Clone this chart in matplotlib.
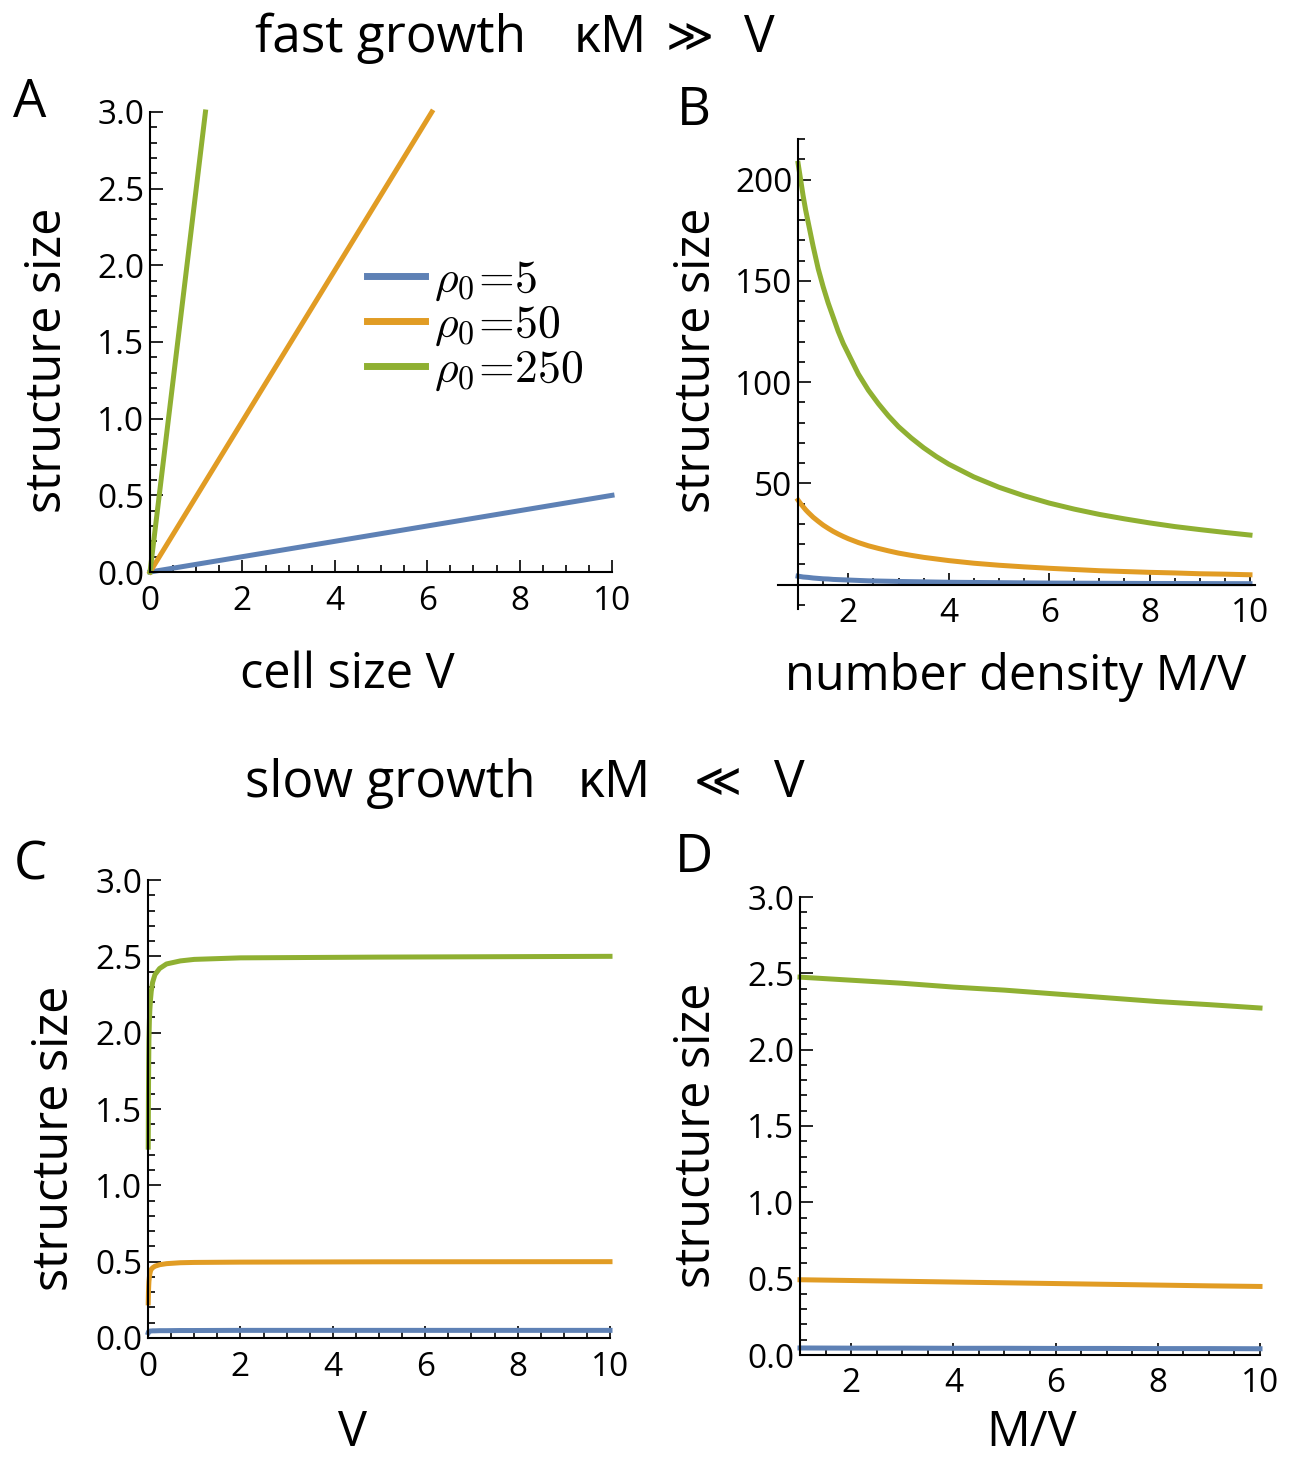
import matplotlib
matplotlib.use('Agg')
import matplotlib.pyplot as plt
from matplotlib.ticker import MultipleLocator, FixedLocator, FormatStrFormatter

W, H = 1296, 1458

blue = '#5E81B5'
orange = '#E19C24'
green = '#8FB032'
labels = [r'$\rho_0\!=\!5$', r'$\rho_0\!=\!50$', r'$\rho_0\!=\!250$']

a_x_blue = [0, 10]
a_y_blue = [0, 0.5]
a_x_orange = [0, 6.1]
a_y_orange = [0, 3.0]
a_x_green = [0, 1.2]
a_y_green = [0, 3.0]

# B: fast growth, size vs number density
b_x = [1.0, 1.05, 1.1, 1.15, 1.2, 1.3, 1.4, 1.5, 1.6, 1.7, 1.8, 1.9, 2.0, 2.2, 2.4, 2.6,
       2.8, 3.0, 3.25, 3.5, 3.75, 4.0, 4.5, 5.0, 5.5, 6.0, 6.5, 7.0, 7.5, 8.0, 8.5, 9.0, 9.5, 10.0]
b_green = [208, 200, 192, 185, 179, 167, 156, 147, 139, 132, 125, 119, 114, 104, 96, 89.3,
           83.3, 78, 72.5, 67.6, 63.3, 59.5, 53.2, 48.1, 43.9, 40.3, 37.3, 34.7, 32.5, 30.5, 28.7, 27.2, 25.8, 24.5]
b_orange = [41.7, 40, 38.5, 37, 35.7, 33.3, 31.3, 29.4, 27.8, 26.3, 25, 23.8, 22.7, 20.8, 19.2, 17.9,
            16.7, 15.6, 14.5, 13.5, 12.7, 11.9, 10.6, 9.6, 8.8, 8.1, 7.5, 6.9, 6.5, 6.1, 5.8, 5.4, 5.2, 4.9]
b_blue = [4.2, 4.0, 3.8, 3.7, 3.6, 3.3, 3.1, 2.9, 2.8, 2.6, 2.5, 2.4, 2.3, 2.1, 1.9, 1.8,
          1.7, 1.6, 1.5, 1.4, 1.3, 1.2, 1.1, 1.0, 0.9, 0.8, 0.75, 0.7, 0.65, 0.6, 0.58, 0.55, 0.52, 0.5]

# C: slow growth, size vs V
c_x = [0.005, 0.01, 0.015, 0.02, 0.03, 0.04, 0.055, 0.07, 0.1, 0.15, 0.25, 0.4, 0.7, 1, 2, 5, 10]
c_green = [1.25, 1.6, 1.8, 1.95, 2.08, 2.15, 2.22, 2.27, 2.33, 2.38, 2.42, 2.45, 2.47, 2.48, 2.49, 2.495, 2.5]
c_orange = [0.23, 0.3, 0.34, 0.37, 0.4, 0.42, 0.44, 0.45, 0.46, 0.47, 0.48, 0.487, 0.493, 0.495, 0.497, 0.499, 0.5]
c_blue = [0.035, 0.04, 0.042, 0.043, 0.044, 0.045, 0.046, 0.046, 0.047, 0.047, 0.048, 0.048, 0.049, 0.049, 0.05, 0.05, 0.05]

# D: slow growth, size vs M/V
d_x = [1, 2, 3, 4, 5, 6, 7, 8, 9, 10]
d_green = [2.475, 2.455, 2.435, 2.41, 2.39, 2.365, 2.34, 2.315, 2.295, 2.273]
d_orange = [0.493, 0.488, 0.483, 0.478, 0.473, 0.468, 0.463, 0.458, 0.453, 0.449]
d_blue = [0.046, 0.045, 0.045, 0.044, 0.044, 0.043, 0.043, 0.042, 0.042, 0.041]

plt.rcParams['font.family'] = ['Open Sans', 'DejaVu Sans']
plt.rcParams['mathtext.fontset'] = 'cm'

fig = plt.figure(figsize=(W / 100, H / 100), dpi=100)


def box(l, t, r, b):
    # pixel box -> figure fraction
    return [l / W, 1 - b / H, (r - l) / W, (b - t) / H]


def style(ax, xmaj, xmin, ymaj, ymin):
    ax.spines['top'].set_visible(False)
    ax.spines['right'].set_visible(False)
    ax.xaxis.set_major_locator(MultipleLocator(xmaj))
    ax.xaxis.set_minor_locator(MultipleLocator(xmin))
    ax.yaxis.set_major_locator(MultipleLocator(ymaj))
    ax.yaxis.set_minor_locator(MultipleLocator(ymin))
    ax.tick_params(which='both', direction='in', width=1.2, labelsize=24)
    ax.tick_params(which='major', length=9)
    ax.tick_params(which='minor', length=5)
    ax.tick_params(axis='x', pad=9)
    ax.tick_params(axis='y', pad=4)
    for s in ['left', 'bottom']:
        ax.spines[s].set_linewidth(1.5)


lw = 3.6

# panel A
axA = fig.add_axes(box(150, 112, 612, 572))
axA.plot(a_x_blue, a_y_blue, color=blue, lw=lw, clip_on=False, label=labels[0])
axA.plot(a_x_orange, a_y_orange, color=orange, lw=lw, clip_on=False, label=labels[1])
axA.plot(a_x_green, a_y_green, color=green, lw=lw, clip_on=False, label=labels[2])
axA.set_xlim(0, 10)
axA.set_ylim(0, 3)
style(axA, 2, 0.5, 0.5, 0.1)
axA.yaxis.set_major_formatter(FormatStrFormatter('%.1f'))
leg = axA.legend(loc='upper left', bbox_to_anchor=(0.42, 0.735), frameon=False, fontsize=33,
                 handlelength=1.27, handletextpad=0.2, labelspacing=-0.02, borderpad=0)
for ln in leg.get_lines():
    ln.set_linewidth(5)

# panel B
axB = fig.add_axes(box(778, 139, 1255, 609))
axB.plot(b_x, b_blue, color=blue, lw=lw)
axB.plot(b_x, b_orange, color=orange, lw=lw)
axB.plot(b_x, b_green, color=green, lw=lw)
axB.set_xlim(0.6, 10.1)
axB.set_ylim(-12, 220)
style(axB, 2, 0.5, 50, 10)
axB.yaxis.set_major_locator(FixedLocator([50, 100, 150, 200]))
axB.spines['left'].set_position(('data', 1))
axB.spines['bottom'].set_position(('data', 0))

# panel C
axC = fig.add_axes(box(148, 880, 610, 1338))
axC.plot(c_x, c_blue, color=blue, lw=lw, clip_on=False)
axC.plot(c_x, c_orange, color=orange, lw=lw, clip_on=False)
axC.plot(c_x, c_green, color=green, lw=lw, clip_on=False)
axC.set_xlim(0, 10)
axC.set_ylim(0, 3)
style(axC, 2, 0.5, 0.5, 0.1)
axC.yaxis.set_major_formatter(FormatStrFormatter('%.1f'))

# panel D
axD = fig.add_axes(box(800, 897, 1260, 1355))
axD.plot(d_x, d_blue, color=blue, lw=lw, clip_on=False)
axD.plot(d_x, d_orange, color=orange, lw=lw, clip_on=False)
axD.plot(d_x, d_green, color=green, lw=lw, clip_on=False)
axD.set_xlim(1, 10)
axD.set_ylim(0, 3)
style(axD, 2, 0.5, 0.5, 0.1)
axD.xaxis.set_major_locator(FixedLocator([2, 4, 6, 8, 10]))
axD.yaxis.set_major_formatter(FormatStrFormatter('%.1f'))


def ftext(x, y, s, size, **kw):
    kw.setdefault('ha', 'center')
    kw.setdefault('va', 'baseline')
    fig.text(x / W, 1 - y / H, s, fontsize=size, **kw)


lab = 35
ftext(48, 360, 'structure size', lab, rotation=90, va='center')
ftext(347, 688, 'cell size V', lab)
ftext(697, 360, 'structure size', lab, rotation=90, va='center')
ftext(1016, 690, 'number density M/V', lab)
ftext(55, 1138, 'structure size', lab, rotation=90, va='center')
ftext(352, 1446, 'V', lab)
ftext(697, 1135, 'structure size', lab, rotation=90, va='center')
ftext(1032, 1446, 'M/V', lab)

ftext(30, 117, 'A', 38)
ftext(694, 125, 'B', 38)
ftext(30, 880, 'C', 38)
ftext(694, 872, 'D', 38)

ttl = 37
ftext(255, 52, 'fast growth', ttl, ha='left')
ftext(574, 52, 'κM', ttl, ha='left')
ftext(666, 50, '≫', 33, ha='left', family=['DejaVu Sans'])
ftext(744, 52, 'V', ttl, ha='left')
ftext(245, 797, 'slow growth', ttl, ha='left')
ftext(578, 797, 'κM', ttl, ha='left')
ftext(694, 795, '≪', 33, ha='left', family=['DejaVu Sans'])
ftext(774, 797, 'V', ttl, ha='left')

fig.savefig('out.png', dpi=100)
